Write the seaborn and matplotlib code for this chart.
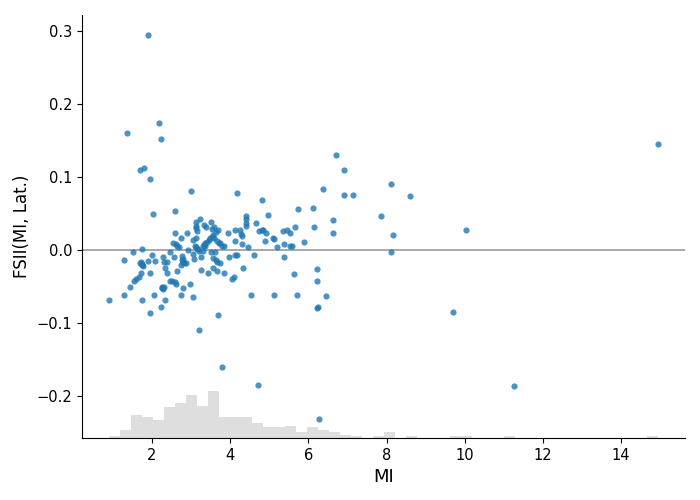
import numpy as np
import pandas as pd
import seaborn as sns
import matplotlib
matplotlib.use("Agg")
import matplotlib.pyplot as plt

# MI values (x) and FSII(MI, Lat.) interaction values (y)
mi = [
    1.90, 1.37, 2.19, 2.24, 1.70, 1.80, 1.96, 3.01, 2.03, 2.60,
    4.18, 4.82, 4.41, 4.41, 4.41, 4.40, 4.67, 4.98, 5.74, 6.13,
    6.72, 6.90, 6.38, 6.92, 7.13, 8.12, 8.61, 7.87, 8.17, 8.12,
    10.02, 14.95, 9.70, 11.25, 4.72, 6.27, 3.80, 3.70, 3.21, 6.23,
    6.26, 6.44, 6.23, 6.23, 5.72, 5.64, 5.13, 4.54, 4.62, 4.34,
    4.06, 4.11, 3.85, 3.98, 4.12, 4.18,
    6.64, 6.62, 6.15, 5.90, 5.67, 4.75, 4.82, 4.85, 4.93, 4.90,
    5.10, 5.11, 5.21, 5.36, 5.46, 5.54, 5.59, 5.54, 5.39, 5.39,
    4.47, 4.13, 4.13, 4.26, 4.29, 4.31, 4.31, 3.95, 3.74, 3.79, 3.84,
    3.13, 3.13, 3.14, 3.15, 3.24, 3.33, 3.39, 3.51, 3.60, 3.68,
    3.63, 3.54, 3.55, 3.67, 3.74, 3.67, 3.63, 3.57, 3.44, 3.25,
    3.06, 2.98, 2.75, 2.80, 2.63, 2.62, 2.58, 2.52, 2.46, 2.30,
    2.26, 2.25, 2.28, 2.34, 2.24, 1.96, 2.06, 1.75, 1.29, 0.91,
    1.45, 1.55, 1.60, 1.67, 1.73, 1.96, 1.29, 1.52, 1.75, 1.72,
    1.75, 1.76, 1.74, 1.70, 1.91, 2.00, 2.09, 2.29, 2.32, 2.39,
    2.34, 2.39, 2.47, 2.57, 2.62, 2.65, 2.55, 2.60, 2.75, 2.90,
    2.70, 2.78, 2.79, 2.80, 2.82, 2.86, 2.76, 2.75, 2.93, 3.06,
    3.07, 3.26, 3.09, 3.12, 3.15, 3.19, 3.05, 3.13, 3.30, 3.33,
    3.35, 3.37, 3.20, 3.30, 3.51, 3.61, 3.72, 3.66, 3.41, 3.45,
    3.53, 3.56, 3.48, 3.58,
]
fsii = [
    0.295, 0.161, 0.174, 0.152, 0.109, 0.112, 0.098, 0.081, 0.049, 0.053,
    0.078, 0.068, 0.047, 0.042, 0.037, 0.033, 0.037, 0.048, 0.056, 0.057,
    0.130, 0.109, 0.083, 0.075, 0.076, 0.090, 0.074, 0.046, 0.020, -0.002,
    0.027, 0.145, -0.085, -0.186, -0.185, -0.231, -0.160, -0.089, -0.110, -0.080,
    -0.078, -0.063, -0.043, -0.026, -0.062, -0.033, -0.062, -0.061, -0.007, -0.025,
    -0.040, -0.037, -0.031, -0.010, -0.007, -0.007,
    0.041, 0.024, 0.031, 0.011, 0.032, 0.026, 0.028, 0.027, 0.024, 0.013,
    0.016, 0.015, 0.004, 0.026, 0.027, 0.023, 0.006, 0.005, 0.008, -0.009,
    0.004, 0.012, 0.028, 0.027, 0.022, 0.019, 0.008, 0.023, 0.009, 0.006, 0.006,
    0.038, 0.033, 0.030, 0.026, 0.043, 0.034, 0.032, 0.039, 0.031, 0.027,
    0.025, 0.029, -0.025, -0.029, -0.018, -0.016, -0.013, -0.011, -0.032, -0.027,
    -0.065, -0.047, -0.062, -0.052, -0.029, -0.046, -0.044, -0.042, -0.042, -0.050,
    -0.052, -0.051, -0.054, -0.069, -0.078, -0.086, -0.062, -0.068, -0.061, -0.069,
    -0.051, -0.042, -0.040, -0.037, -0.032, -0.032, -0.013, -0.002, 0.001, -0.016,
    -0.019, -0.022, -0.020, -0.018, -0.015, -0.007, -0.015, -0.010, -0.017, -0.017,
    -0.024, -0.032, -0.002, -0.009, 0.008, 0.006, 0.009, 0.023, 0.016, 0.024,
    0.004, -0.008, -0.012, -0.016, -0.018, -0.018, -0.014, -0.021, 0.000, -0.005,
    -0.012, -0.010, 0.006, 0.004, 0.002, 0.001, 0.014, 0.017, 0.005, 0.007,
    0.009, 0.005, -0.001, -0.001, -0.002, -0.003, 0.010, 0.012, 0.011, 0.014,
    0.018, 0.021, 0.016, 0.016,
]

# background histogram of MI: 50 bins between min and max, counts
hist_range = (0.90, 14.95)
hist_counts = [
    1, 5, 15, 14, 12, 20, 23, 28, 21, 31,
    14, 14, 14, 10, 7, 7, 8, 4, 7, 5,
    4, 2, 1, 0, 1, 4, 0, 1, 0, 0,
    0, 1, 1, 0, 0, 0, 1, 0, 0, 0,
    0, 0, 0, 0, 0, 0, 0, 0, 0, 1,
]

df = pd.DataFrame({"MI": mi, "FSII": fsii})
edges = np.linspace(hist_range[0], hist_range[1], len(hist_counts) + 1)
hist_df = pd.DataFrame({"MI": (edges[:-1] + edges[1:]) / 2, "count": hist_counts})

fig, ax = plt.subplots(figsize=(7, 5), dpi=100)
fig.subplots_adjust(left=0.117, right=0.979, top=0.97, bottom=0.124)

ax.axhline(0, color="#999999", lw=1.2, zorder=1)
sns.scatterplot(data=df, x="MI", y="FSII", ax=ax, color="#1f77b4", alpha=0.8,
                s=20, linewidth=0, zorder=3)

# histogram on a twin axis, scaled so its height is count / number of samples
ax2 = ax.twinx()
sns.histplot(data=hist_df, x="MI", weights="count", bins=list(edges), ax=ax2,
             color="black", alpha=0.13, linewidth=0, element="bars")
ax2.set_ylim(0, sum(hist_counts))
ax2.set_yticks([])
ax2.set_ylabel("")
for s in ax2.spines.values():
    s.set_visible(False)
ax.set_zorder(ax2.get_zorder() + 1)
ax.patch.set_visible(False)

ax.set_xlim(0.21, 15.64)
ax.set_ylim(-0.2575, 0.322)
ax.set_xticks([2, 4, 6, 8, 10, 12, 14])
ax.set_yticks([-0.2, -0.1, 0.0, 0.1, 0.2, 0.3])
ax.spines["top"].set_visible(False)
ax.spines["right"].set_visible(False)
ax.tick_params(labelsize=10.5)
ax.set_xlabel("MI", fontsize=13)
ax.set_ylabel("FSII(MI, Lat.)", fontsize=12)

fig.savefig("out.png", dpi=100)
